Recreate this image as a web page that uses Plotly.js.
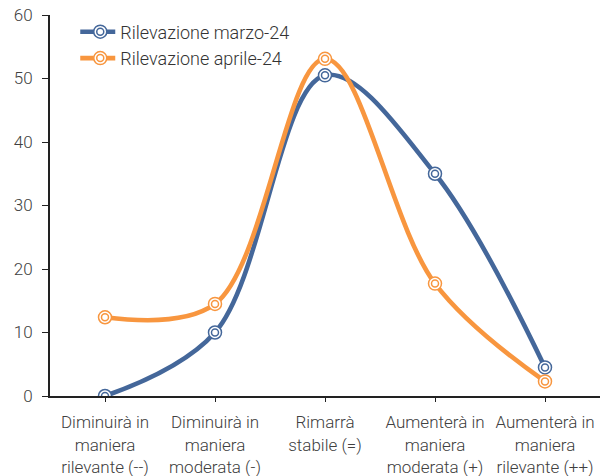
<!DOCTYPE html>
<html><head><meta charset="utf-8">
<script src="https://cdn.plot.ly/plotly-3.0.1.min.js"></script>
<style>body{margin:0;padding:0;background:#fff}#chart{width:606px;height:476px}</style>
</head><body><div id="chart"></div>
<script>
const categories = ["Diminuirà in<br>maniera<br>rilevante (--)", "Diminuirà in<br>maniera<br>moderata (-)", "Rimarrà<br>stabile (=)", "Aumenterà in<br>maniera<br>moderata (+)", "Aumenterà in<br>maniera<br>rilevante (++)"];
const marzo = [0, 10, 50.5, 35, 4.5];
const aprile = [12.4, 14.5, 53.1, 17.7, 2.3];
const yTicks = [0, 10, 20, 30, 40, 50, 60];
const seriesNames = ["Rilevazione marzo-24", "Rilevazione aprile-24"];

const blue = "#44679A", orange = "#F8963F";
const idx = categories.map((_, i) => i);
function line(y, name, color) {
  return {x: idx, y: y, name: name, type: "scatter", mode: "lines+markers",
    line: {color: color, width: 4.6, shape: "spline", smoothing: 1},
    marker: {symbol: "circle", size: 13, color: "#fff", line: {color: color, width: 1.5}}};
}
function dots(y, color) {
  return {x: idx, y: y, type: "scatter", mode: "markers", showlegend: false, hoverinfo: "skip",
    marker: {symbol: "circle", size: 7, color: "#fff", line: {color: color, width: 1.5}}};
}
const data = [line(marzo, seriesNames[0], blue), dots(marzo, blue), line(aprile, seriesNames[1], orange), dots(aprile, orange)];
const layout = {
  width: 606, height: 476,
  margin: {l: 50, r: 6, t: 15, b: 80},
  paper_bgcolor: "#fff", plot_bgcolor: "#fff",
  font: {family: "Roboto", size: 17, color: "#404040", weight: 300},
  showlegend: true,
  legend: {x: 0.055, y: 1.004, xanchor: "left", yanchor: "top", bgcolor: "rgba(0,0,0,0)", font: {size: 18, color: "#333", weight: 300}, tracegroupgap: 0},
  xaxis: {range: [-0.5, 4.5], tickvals: idx, ticktext: categories, showline: true, linecolor: "#222", linewidth: 2,
    ticks: "outside", ticklen: 4, tickcolor: "#222", showgrid: false, zeroline: false, ticklabelstandoff: 6},
  yaxis: {range: [0, 60], tickvals: yTicks, showline: true, linecolor: "#222", linewidth: 2,
    ticks: "outside", ticklen: 6, tickcolor: "#222", showgrid: false, zeroline: false, ticklabelstandoff: 6},
};
Plotly.newPlot("chart", data, layout, {displayModeBar: false, staticPlot: true}).then(function (gd) {
  gd.querySelectorAll(".legend .traces").forEach(function (tr) {
    const p = tr.querySelector(".legendlines path");
    if (p) p.setAttribute("d", "M-12,0h47");
    const pt = tr.querySelector(".legendpoints path.scatterpts");
    if (pt) {
      const c = pt.cloneNode();
      c.setAttribute("d", "M3.5,0A3.5,3.5 0 1,1 0,-3.5A3.5,3.5 0 0,1 3.5,0Z");
      pt.parentNode.appendChild(c);
    }
  });
});
</script></body></html>
